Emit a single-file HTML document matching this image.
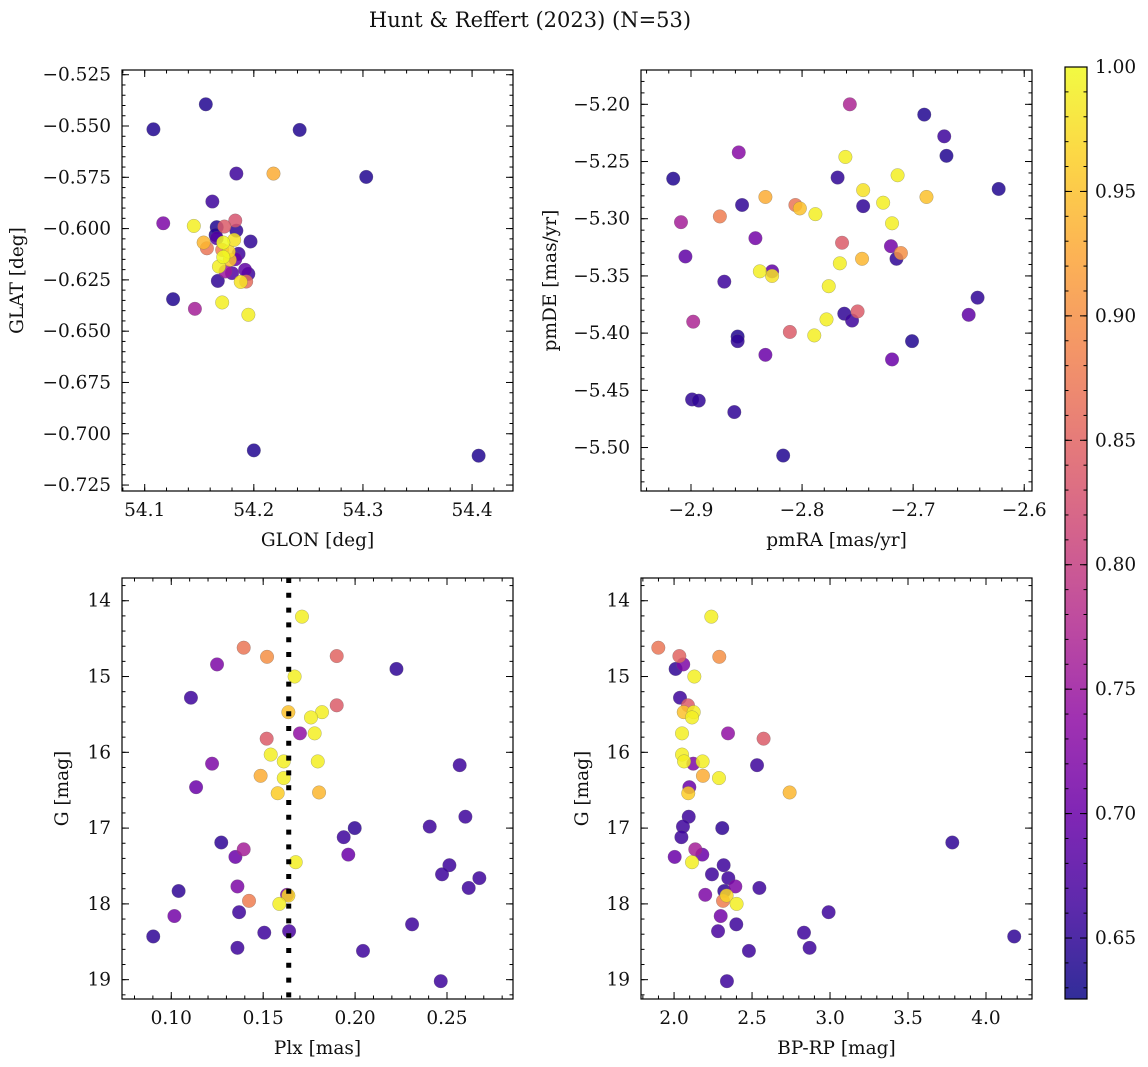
<!DOCTYPE html>
<html><head><meta charset="utf-8"><style>
body{margin:0;background:#fff;}
svg{display:block;font-family:"DejaVu Serif","Liberation Serif",serif;}
</style></head><body>
<svg id="fig" width="1148" height="1067" viewBox="0 0 1148 1067" xmlns="http://www.w3.org/2000/svg">
<rect width="1148" height="1067" fill="#fff"/>
<text x="530" y="27" font-size="21" text-anchor="middle" fill="#111">Hunt &amp; Reffert (2023) (N=53)</text>
<g id="layer"></g>
</svg>
<script>
// ---- data: top-left (position) ----
const glon=[54.156,54.108,54.242,54.184,54.218,54.303,54.162,54.117,54.145,54.183,54.166,54.173,54.184,54.165,54.166,54.197,54.154,54.157,54.182,54.172,54.171,54.186,54.177,54.172,54.183,54.178,54.168,54.192,54.195,54.174,54.180,54.193,54.188,54.167,54.126,54.146,54.171,54.195,54.200,54.406];
const glat=[-0.5394,-0.5516,-0.5519,-0.5732,-0.5732,-0.5748,-0.5868,-0.5974,-0.5987,-0.5961,-0.5993,-0.5990,-0.6010,-0.6031,-0.6047,-0.6063,-0.6068,-0.6096,-0.6055,-0.6068,-0.6104,-0.6123,-0.6112,-0.6139,-0.6149,-0.6152,-0.6185,-0.6201,-0.6221,-0.6209,-0.6217,-0.6258,-0.6260,-0.6255,-0.6344,-0.6391,-0.6360,-0.6420,-0.7081,-0.7107];
const probPos=[0.64,0.64,0.64,0.66,0.93,0.64,0.66,0.72,0.99,0.83,0.64,0.84,0.65,0.64,0.68,0.65,0.94,0.87,0.98,1.0,0.88,0.66,0.97,1.0,0.70,0.95,0.99,0.69,0.66,0.75,0.68,0.86,0.98,0.65,0.64,0.76,0.99,0.99,0.64,0.64];
// ---- data: top-right (proper motion) ----
const pmra=[-2.757,-2.690,-2.672,-2.670,-2.857,-2.761,-2.916,-2.768,-2.714,-2.623,-2.833,-2.745,-2.688,-2.854,-2.806,-2.802,-2.745,-2.727,-2.788,-2.874,-2.909,-2.719,-2.842,-2.764,-2.720,-2.711,-2.715,-2.905,-2.746,-2.766,-2.827,-2.838,-2.827,-2.870,-2.776,-2.642,-2.650,-2.762,-2.750,-2.755,-2.778,-2.898,-2.858,-2.858,-2.811,-2.789,-2.701,-2.833,-2.719,-2.899,-2.893,-2.861,-2.817];
const pmde=[-5.200,-5.209,-5.228,-5.245,-5.242,-5.246,-5.265,-5.264,-5.262,-5.274,-5.281,-5.275,-5.281,-5.288,-5.288,-5.291,-5.289,-5.286,-5.296,-5.298,-5.303,-5.304,-5.317,-5.321,-5.324,-5.330,-5.335,-5.333,-5.335,-5.339,-5.346,-5.346,-5.350,-5.355,-5.359,-5.369,-5.384,-5.383,-5.381,-5.389,-5.388,-5.390,-5.403,-5.407,-5.399,-5.402,-5.407,-5.419,-5.423,-5.458,-5.459,-5.469,-5.507];
const probPm=[0.77,0.64,0.66,0.64,0.73,0.99,0.64,0.65,0.99,0.64,0.93,0.98,0.95,0.65,0.87,0.95,0.65,0.99,0.99,0.88,0.76,0.99,0.71,0.84,0.71,0.90,0.65,0.69,0.94,0.99,0.69,0.99,0.98,0.66,0.99,0.65,0.69,0.65,0.84,0.66,0.99,0.77,0.64,0.65,0.84,0.99,0.64,0.70,0.70,0.65,0.65,0.65,0.64];
// ---- data: bottom (photometry) ----
const plx=[0.1711,0.1394,0.1521,0.1900,0.1249,0.2225,0.1671,0.1107,0.1900,0.1637,0.1820,0.1760,0.1700,0.1780,0.1519,0.1541,0.1612,0.1797,0.1222,0.2569,0.1486,0.1612,0.1135,0.1579,0.1804,0.2600,0.1998,0.2406,0.1938,0.1272,0.1394,0.1349,0.1963,0.1677,0.2513,0.2473,0.2676,0.2618,0.1360,0.1040,0.1630,0.1637,0.1423,0.1588,0.1369,0.1017,0.2310,0.1506,0.1641,0.0902,0.1360,0.2043,0.2466];
const bprp=[2.239,1.899,2.290,2.034,2.059,2.010,2.130,2.038,2.089,2.062,2.126,2.115,2.346,2.051,2.574,2.051,2.064,2.183,2.123,2.532,2.185,2.288,2.098,2.091,2.741,2.094,2.309,2.057,2.047,3.784,2.136,2.004,2.181,2.115,2.318,2.243,2.348,2.547,2.393,2.322,2.200,2.337,2.314,2.401,2.991,2.299,2.399,2.833,2.282,4.181,2.869,2.480,2.339];
const gmag=[14.21,14.62,14.74,14.73,14.84,14.90,15.00,15.28,15.38,15.47,15.47,15.54,15.75,15.75,15.82,16.03,16.12,16.12,16.15,16.17,16.31,16.34,16.46,16.54,16.53,16.85,17.00,16.98,17.12,17.19,17.28,17.38,17.35,17.45,17.49,17.61,17.66,17.79,17.77,17.83,17.88,17.89,17.96,18.00,18.11,18.16,18.27,18.38,18.36,18.43,18.58,18.62,19.02];
const probPh=[0.99,0.87,0.90,0.85,0.72,0.65,0.99,0.66,0.84,0.95,0.99,0.99,0.74,0.99,0.84,0.99,0.99,0.99,0.72,0.66,0.93,0.99,0.70,0.96,0.94,0.66,0.65,0.66,0.66,0.65,0.76,0.70,0.70,0.99,0.66,0.66,0.66,0.66,0.72,0.65,0.72,0.97,0.88,0.99,0.66,0.71,0.66,0.66,0.67,0.65,0.66,0.66,0.66];
const plxLine=0.1639;
const cbTicks=[0.65,0.70,0.75,0.80,0.85,0.90,0.95,1.00];
const cMin=0.6255,cMax=1.0;

const FT=18.5, FL=18.5;
const NS="http://www.w3.org/2000/svg";
const layer=document.getElementById('layer');
function mk(tag,attrs,parent){const e=document.createElementNS(NS,tag);for(const k in attrs)e.setAttribute(k,attrs[k]);(parent||layer).appendChild(e);return e;}
const stops=[[13,8,135],[65,4,157],[106,0,168],[143,13,164],[177,42,144],[204,71,120],[225,100,98],[242,132,75],[252,166,54],[252,206,37],[240,249,33]];
function plasma(t){t=Math.max(0,Math.min(1,t))*10;const i=Math.min(9,Math.floor(t)),f=t-i;const a=stops[i],b=stops[i+1];return 'rgb('+a.map((v,k)=>Math.round(v+(b[k]-v)*f)).join(',')+')';}
function col(p){return plasma((p-cMin)/(cMax-cMin));}
function fmtNum(v,d){const s=Math.abs(v).toFixed(d);return (v<-1e-9?'\u2212':'')+s;}

function panel(o){
  const g=mk('g',{});
  
  
  const sx=v=>o.x0+(v-o.xd[0])/(o.xd[1]-o.xd[0])*(o.x1-o.x0);
  const sy=v=>o.y0+(v-o.yd[0])/(o.yd[1]-o.yd[0])*(o.y1-o.y0);
  const pg=mk('g',{},g);
  
  
  const idx=o.xs.map((_,i)=>i).sort((a,b)=>o.ps[a]-o.ps[b]);
  idx.forEach(i=>{
    const c=mk('circle',{cx:sx(o.xs[i]),cy:sy(o.ys[i]),r:6.8,fill:col(o.ps[i]),'fill-opacity':0.85,stroke:'#666','stroke-opacity':0.5,'stroke-width':0.5},pg);
    
    
  });
  if(o.vline!==undefined){
    const l=mk('line',{x1:sx(o.vline),x2:sx(o.vline),y1:o.y0,y2:o.y1,stroke:'#000','stroke-width':5,'stroke-dasharray':'5 9.8'},g);
    
    
  }
  const fr=mk('rect',{x:o.x0,y:o.y0,width:o.x1-o.x0,height:o.y1-o.y0,fill:'none',stroke:'#000','stroke-width':1.2},g);
  
  
  const tk=mk('g',{stroke:'#000','stroke-width':1},g);
  function ticksX(step,len){const a=Math.ceil(Math.min(...o.xd)/step-1e-6),b=Math.floor(Math.max(...o.xd)/step+1e-6);for(let k=a;k<=b;k++){const x=sx(k*step);mk('line',{x1:x,x2:x,y1:o.y1,y2:o.y1-len},tk);mk('line',{x1:x,x2:x,y1:o.y0,y2:o.y0+len},tk);}}
  function ticksY(step,len){const lo=Math.min(...o.yd),hi=Math.max(...o.yd);const a=Math.ceil(lo/step-1e-6),b=Math.floor(hi/step+1e-6);for(let k=a;k<=b;k++){const y=sy(k*step);mk('line',{x1:o.x0,x2:o.x0+len,y1:y,y2:y},tk);mk('line',{x1:o.x1,x2:o.x1-len,y1:y,y2:y},tk);}}
  ticksX(o.xmin,3.5);ticksX(o.xmaj,7);ticksY(o.ymin,3.5);ticksY(o.ymaj,7);
  o.xt.forEach(v=>{const t=mk('text',{x:sx(v),y:o.y1+25,'font-size':FT,'text-anchor':'middle',fill:'#111'},g);t.textContent=fmtNum(v,o.xd_dec);});
  o.yt.forEach(v=>{const t=mk('text',{x:o.x0-11,y:sy(v)+6,'font-size':FT,'text-anchor':'end',fill:'#111'},g);t.textContent=fmtNum(v,o.yd_dec);});
  const xl=mk('text',{x:(o.x0+o.x1)/2,y:o.y1+55,'font-size':FL,'text-anchor':'middle',fill:'#111'},g);xl.textContent=o.xlab;
  
  
  const yl=mk('text',{x:o.ylx,y:(o.y0+o.y1)/2,'font-size':FL,'text-anchor':'middle',fill:'#111',transform:'rotate(-90 '+o.ylx+' '+((o.y0+o.y1)/2)+')'},g);yl.textContent=o.ylab;
  
  
}
function range(a,b,s){const r=[];for(let k=Math.round(a/s);k<=Math.round(b/s);k++)r.push(+(k*s).toFixed(6));return r;}

panel({name:'position-panel',x0:122,x1:513,y0:70,y1:491,xd:[54.0792,54.4375],yd:[-0.5227,-0.7279],xs:glon,ys:glat,ps:probPos,
 xmaj:0.1,xmin:0.02,ymaj:0.025,ymin:0.005,xt:range(54.1,54.4,0.1),yt:range(-0.725,-0.525,0.025),xd_dec:1,yd_dec:3,xlab:'GLON [deg]',ylab:'GLAT [deg]',ylx:23});
panel({name:'proper-motion-panel',x0:641,x1:1032,y0:70,y1:491,xd:[-2.945,-2.593],yd:[-5.17,-5.538],xs:pmra,ys:pmde,ps:probPm,
 xmaj:0.1,xmin:0.02,ymaj:0.05,ymin:0.01,xt:range(-2.9,-2.6,0.1),yt:range(-5.5,-5.2,0.05),xd_dec:1,yd_dec:2,xlab:'pmRA [mas/yr]',ylab:'pmDE [mas/yr]',ylx:556});
panel({name:'parallax-panel',x0:122,x1:513,y0:578,y1:999,xd:[0.0732,0.2859],yd:[13.70,19.255],xs:plx,ys:gmag,ps:probPh,vline:plxLine,
 xmaj:0.05,xmin:0.01,ymaj:1,ymin:0.2,xt:range(0.1,0.25,0.05),yt:range(14,19,1),xd_dec:2,yd_dec:0,xlab:'Plx [mas]',ylab:'G [mag]',ylx:68});
panel({name:'cmd-panel',x0:641,x1:1032,y0:578,y1:999,xd:[1.788,4.295],yd:[13.70,19.255],xs:bprp,ys:gmag,ps:probPh,
 xmaj:0.5,xmin:0.1,ymaj:1,ymin:0.2,xt:range(2.0,4.0,0.5),yt:range(14,19,1),xd_dec:1,yd_dec:0,xlab:'BP-RP [mag]',ylab:'G [mag]',ylx:588});

(function(){
  const cb=mk('g',{});
  
  
  const X0=1065,X1=1087,Y0=67,Y1=999;
  const defs=mk('defs',{},cb);
  const lg=mk('linearGradient',{id:'pl',x1:0,y1:1,x2:0,y2:0},defs);
  for(let i=0;i<=20;i++)mk('stop',{offset:i/20,'stop-color':plasma(i/20),'stop-opacity':0.85},lg);
  mk('rect',{x:X0,y:Y0,width:X1-X0,height:Y1-Y0,fill:'url(#pl)',stroke:'#000','stroke-width':1.2},cb);
  const sy=v=>Y1-(v-cMin)/(cMax-cMin)*(Y1-Y0);
  for(let k=63;k<=100;k++){const y=sy(k/100);mk('line',{x1:X0,x2:X0+3.5,y1:y,y2:y,stroke:'#000'},cb);mk('line',{x1:X1,x2:X1-3.5,y1:y,y2:y,stroke:'#000'},cb);}
  cbTicks.forEach(v=>{const y=sy(v);mk('line',{x1:X1,x2:X1-7,y1:y,y2:y,stroke:'#000'},cb);mk('line',{x1:X0,x2:X0+7,y1:y,y2:y,stroke:'#000'},cb);
    const t=mk('text',{x:X1+8,y:y+6,'font-size':FT,fill:'#111'},cb);t.textContent=v.toFixed(2);
    
    });
})();
</script>
</body></html>
